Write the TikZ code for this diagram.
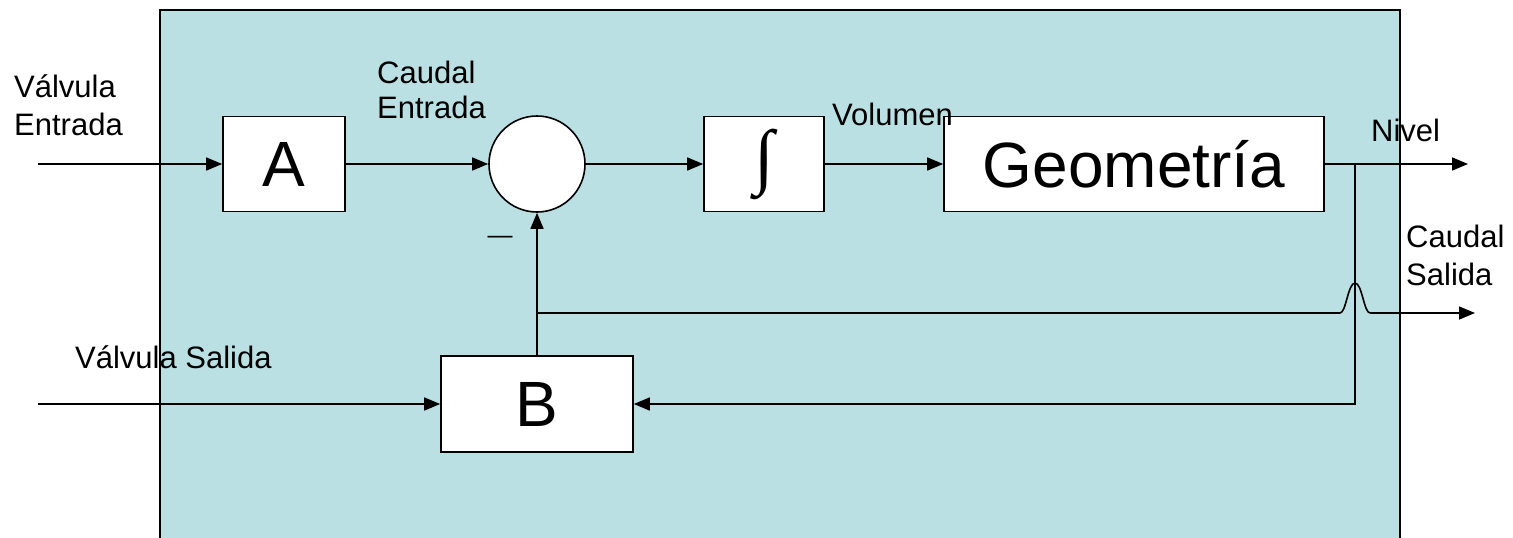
\documentclass[tikz,border=0pt]{standalone}
\usepackage{fontspec}
\setmainfont{Liberation Sans}
\newfontfamily\serifsym{Liberation Serif}
\usetikzlibrary{arrows.meta, positioning, calc}
\definecolor{tankblue}{RGB}{187, 224, 227}
\tikzset{
    blockbox/.style={draw, rectangle, fill=white, line width=1.6pt, minimum height=95pt, inner sep=0pt, font=\fontsize{64}{70}\selectfont},
    sumnode/.style={draw, circle, fill=white, line width=1.6pt, minimum size=96pt, inner sep=0pt},
    signal/.style={-{Triangle[length=16pt, width=13pt]}, line width=1.6pt},
    wire/.style={line width=1.6pt},
    sigtext/.style={inner sep=0pt, anchor=base west, font=\fontsize{31}{38}\selectfont},
}

\begin{document}
\begin{tikzpicture}[x=1pt, y=-1pt]
    \useasboundingbox (0,0) rectangle (1513,538);
    % tank
    \fill[tankblue] (160,10) rectangle (1400,538);
    \draw[line width=2pt] (160,538) -- (160,10) -- (1400,10) -- (1400,538);

    % blocks
    \node[blockbox, minimum width=122pt] (A) at (284,164) {A};
    \node[sumnode] (sum) at (537,164) {};
    \node[blockbox, minimum width=120pt] (integ) at (764,164) {\fontsize{72}{76}\selectfont\serifsym ∫};
    \node[blockbox, minimum width=380pt] (geo) at (1134,164) {Geometría};
    \node[blockbox, minimum width=192pt, minimum height=96pt] (B) at (537,404) {B};

    % free ends and branch points
    \coordinate (inA) at (38,164);
    \coordinate (inB) at (38,404);
    \coordinate (nivelout) at (1468,164);
    \coordinate (tap) at (1355,164);
    \coordinate (fb) at (537,313);
    \coordinate (humpl) at (1340,313);
    \coordinate (humpr) at (1370,313);
    \coordinate (caudalout) at (1475,313);

    % signals
    \draw[signal] (inA) -- (A);
    \draw[signal] (A) -- (sum);
    \draw[signal] (sum) -- (integ);
    \draw[signal] (integ) -- (geo);
    \draw[signal] (geo) -- (nivelout);
    \draw[signal] (tap) |- (B.east);
    \draw[signal] (inB) -- (B.west);
    \draw[signal] (B.north) -- (sum.south);
    \draw[wire] (fb) -- (humpl) .. controls (1346,313) and (1348,283) .. (1355,283)
        .. controls (1362,283) and (1364,313) .. (humpr);
    \draw[signal] (humpr) -- (caudalout);

    % labels
    \node[sigtext] (lvin) at (14,97) {\begin{tabular}[t]{@{}l@{}}Válvula\\Entrada\end{tabular}};
    \node[sigtext, font=\fontsize{31}{35}\selectfont] (lqin) at (377,83) {\begin{tabular}[t]{@{}l@{}}Caudal\\Entrada\end{tabular}};
    \node[sigtext] (lvol) at (832,125) {Volumen};
    \node[sigtext] (lniv) at (1371,141) {Nivel};
    \node[sigtext] (lqout) at (1406,247) {\begin{tabular}[t]{@{}l@{}}Caudal\\Salida\end{tabular}};
    \node[sigtext] (lvout) at (75,368) {Válvula Salida};
    \node[inner sep=0pt, font=\fontsize{25}{30}\selectfont] (minus) at (500,240) {—};
\end{tikzpicture}
\end{document}
